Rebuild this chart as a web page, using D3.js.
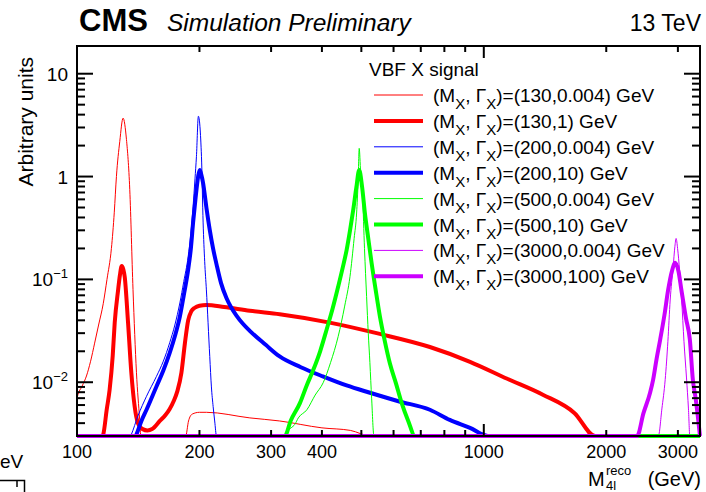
<!DOCTYPE html>
<html>
<head>
<meta charset="utf-8">
<script src="https://cdn.jsdelivr.net/npm/d3@7"></script>
<style>
  body { margin: 0; background: #fff; }
  svg { display: block; font-family: "Liberation Sans", Arial, Helvetica, sans-serif; }
</style>
</head>
<body>
<div id="chart"></div>
<script>
// --- Data (mass in GeV, arbitrary units) ---
const xTickLabels = [100, 200, 300, 400, 1000, 2000, 3000];
const legendMass  = ["130", "130", "200", "200", "500", "500", "3000", "3000"];
const legendWidth = ["0.004", "1", "0.004", "10", "0.004", "10", "0.004", "100"];

// (130, 0.004)
const h130n = [[100,0],[100.2,0.0072],[103,0.0092],[105.5,0.0115],[108,0.016],[110.5,0.024],[113,0.036],[116,0.058],
  [118.5,0.1],[121.5,0.2],[123.5,0.45],[125,1.0],[127.4,2.2],[129.8,3.7],[132.3,2.3],[134.8,0.75],[137.3,0.08],
  [140,0.0125],[142.6,0.0043],[143.5,0],[183,0],[185,0.0025],[188,0.0042],[192,0.0049],[200,0.0051],[208,0.0051],
  [266,0.0045],[315,0.0042],[400,0.0036],[470,0.0034],[527,0.003],[530,0],[3400,0]];
// (130, 1)
const h130w = [[100,0],[115.5,0],[116,0.0031],[118.3,0.0054],[120.3,0.0085],[122.4,0.018],[123.8,0.038],[126.2,0.079],
  [127.5,0.11],[128.8,0.135],[130,0.125],[131,0.106],[133.5,0.038],[136,0.0124],[138.6,0.0058],[141.2,0.0040],
  [145,0.0035],[149,0.0034],[153,0.0035],[159.8,0.0042],[165,0.0048],[169,0.0055],[173,0.0066],[176.5,0.0082],
  [180.6,0.0124],[184.2,0.024],[187.6,0.040],[191,0.049],[194.8,0.053],[200,0.0555],[208,0.0565],[230,0.054],
  [266,0.0495],[315,0.0458],[418,0.0380],[555,0.0295],[737,0.0220],[925,0.0158],[1142,0.0108],[1393,0.0076],
  [1672,0.0050],[1877,0.003],[1880,0],[3400,0]];
// (200, 0.004)
const h200n = [[100,0],[135.5,0],[136,0.0031],[141.2,0.0047],[148.2,0.0073],[156.8,0.0114],[163,0.016],[169,0.0242],
  [174,0.036],[179,0.059],[183,0.095],[187.6,0.166],[190.5,0.28],[192.9,0.509],[195,0.95],[196.6,1.56],[198.8,3.86],
  [202.3,1.56],[204.2,0.354],[206,0.15],[208,0.079],[212,0.0178],[214,0.009],[216.1,0.0058],[218,0.0042],
  [220.3,0.003],[221,0],[3400,0]];
// (200, 10)
const h200w = [[100,0],[139.5,0],[140,0.0031],[144,0.0042],[148.2,0.0054],[156.8,0.0091],[163,0.013],[169,0.0193],
  [174,0.028],[179,0.0435],[183,0.07],[187.6,0.124],[190.5,0.2],[192.9,0.354],[195.5,0.6],[198.5,1.0],[200.3,1.16],
  [202,1.05],[204.2,0.86],[208,0.5],[212,0.303],[216,0.2],[220.3,0.14],[226,0.092],[233,0.066],[239.6,0.053],
  [246.6,0.0445],[255.8,0.037],[265.9,0.0316],[291,0.0231],[314.9,0.0178],[355,0.014],[402,0.0114],[460,0.0093],
  [525,0.0079],[620,0.0065],[737,0.0054],[825,0.0043],[925,0.0036],[1024,0.003],[1030,0],[3400,0]];
// (500, 0.004)
const h500n = [[100,0],[323,0],[324.5,0.003],[330,0.0034],[336,0.0036],[343.3,0.0039],[350,0.0045],[367.4,0.0054],
  [385,0.0075],[402.9,0.0099],[420,0.0155],[438.6,0.0279],[455,0.055],[468.8,0.106],[480,0.25],[486.8,0.442],
  [491,0.9],[494,1.88],[498,1.1],[503.6,0.637],[509,0.2],[515.1,0.068],[520,0.03],[524.8,0.0155],[530,0.007],
  [537,0.003],[538,0],[3400,0]];
// (500, 10)
const h500w = [[100,0],[323.5,0],[324.2,0.003],[335,0.0042],[353.4,0.0063],[367,0.0093],[381,0.0132],[396,0.02],
  [410.7,0.0324],[425,0.052],[438.6,0.0851],[450,0.13],[460,0.193],[469,0.3],[477.5,0.473],[486,0.78],[494,1.16],
  [502,0.8],[510.2,0.44],[520,0.25],[529.9,0.144],[542,0.08],[555.5,0.0435],[570,0.026],[587.8,0.0152],
  [608,0.0098],[628.1,0.0063],[652,0.0042],[677.3,0.003],[678,0],[3400,0]];
// (3000, 0.004)
const h3000n = [[100,0],[2683,0],[2686,0.003],[2740,0.0055],[2792,0.0106],[2835,0.025],[2872,0.063],[2920,0.13],
  [2950,0.21],[2970,0.25],[2995,0.2],[3030,0.12],[3065,0.063],[3105,0.025],[3150,0.011],[3185,0.0055],
  [3210,0.003],[3215,0],[3400,0]];
// (3000, 100)
const h3000w = [[100,0],[2380,0],[2382,0.003],[2469,0.005],[2563,0.0079],[2608,0.0106],[2660,0.017],[2714,0.026],
  [2780,0.045],[2839,0.079],[2900,0.12],[2955,0.145],[3010,0.12],[3060,0.079],[3140,0.042],[3210,0.026],
  [3265,0.0106],[3320,0.0068],[3350,0.0051],[3400,0.003]];

// --- Setup ---
const width = 706, height = 492;
const frame = { left: 77, right: 700, top: 46, bottom: 436 };
const yMin = 0.003, yMax = 18.6;

const svg = d3.select("#chart").append("svg")
  .attr("width", width).attr("height", height)
  .attr("viewBox", [0, 0, width, height]);

const x = d3.scaleLog().domain([100, 3400]).range([frame.left, frame.right]);
const y = d3.scaleLog().domain([yMin, yMax]).range([frame.bottom, frame.top]);

const line = d3.line()
  .x(d => x(d[0]))
  .y(d => y(Math.max(d[1], yMin)))
  .curve(d3.curveMonotoneX);

// drawing order and styles (thin = 0.004 GeV width)
const series = [
  { data: h3000n, color: "#cc00ff", w: 1 },
  { data: h130n,  color: "#ff0000", w: 1 },
  { data: h130w,  color: "#ff0000", w: 4 },
  { data: h200n,  color: "#0000ff", w: 1 },
  { data: h200w,  color: "#0000ff", w: 4 },
  { data: h500n,  color: "#00ff00", w: 1 },
  { data: h500w,  color: "#00ff00", w: 4 },
  { data: h3000w, color: "#cc00ff", w: 4 }
];

// --- Curves ---
const curveGroup = svg.append("g").attr("class", "curves");
curveGroup.selectAll("path").data(series).join("path")
  .attr("d", d => line(d.data))
  .attr("fill", "none")
  .attr("stroke", d => d.color)
  .attr("stroke-width", d => d.w)
  .attr("stroke-linejoin", "round");

// --- Frame & ticks ---
const axes = svg.append("g").attr("stroke", "#000").attr("stroke-width", 2).attr("fill", "none");
axes.append("rect")
  .attr("x", frame.left).attr("y", frame.top)
  .attr("width", frame.right - frame.left).attr("height", frame.bottom - frame.top);

const isDecade = v => Math.abs(Math.log10(v) - Math.round(Math.log10(v))) < 1e-9;

const yTicks = y.ticks().filter(v => v >= yMin && v <= yMax);
yTicks.forEach(v => {
  const len = isDecade(v) ? 16 : 8;
  const yy = y(v);
  axes.append("line").attr("x1", frame.left).attr("x2", frame.left + len).attr("y1", yy).attr("y2", yy);
  axes.append("line").attr("x1", frame.right).attr("x2", frame.right - len).attr("y1", yy).attr("y2", yy);
});

const xTicks = x.ticks().filter(v => v >= 100 && v <= 3400);
xTicks.forEach(v => {
  const len = isDecade(v) ? 12 : 6;
  const xx = x(v);
  axes.append("line").attr("x1", xx).attr("x2", xx).attr("y1", frame.bottom).attr("y2", frame.bottom - len);
  axes.append("line").attr("x1", xx).attr("x2", xx).attr("y1", frame.top).attr("y2", frame.top + len);
});

// --- Tick labels ---
svg.append("g").selectAll("text").data(xTickLabels).join("text")
  .attr("x", d => x(d)).attr("y", 458)
  .attr("text-anchor", "middle").attr("font-size", 18)
  .text(d => d);

const yLab = svg.append("g").attr("font-size", 19).attr("text-anchor", "end");
yTicks.filter(isDecade).forEach(v => {
  const e = Math.round(Math.log10(v));
  const t = yLab.append("text").attr("x", 68).attr("y", y(v) + 7);
  if (e === 0) t.text("1");
  else if (e === 1) t.text("10");
  else {
    t.append("tspan").text("10");
    t.append("tspan").attr("font-size", 13).attr("dy", -8).text("\u2212" + (-e));
  }
});

// --- Axis titles ---
svg.append("text")
  .attr("transform", `translate(33, ${frame.top + 11}) rotate(-90)`)
  .attr("text-anchor", "end").attr("font-size", 21)
  .text("Arbitrary units");

const xt = svg.append("g").attr("font-size", 20);
xt.append("text").attr("x", 588).attr("y", 486).text("M");
xt.append("text").attr("x", 606).attr("y", 475).attr("font-size", 13).text("reco");
xt.append("text").attr("x", 606).attr("y", 490).attr("font-size", 13).text("4l");
xt.append("text").attr("x", 701).attr("y", 486).attr("text-anchor", "end").text("(GeV)");

// --- Header ---
svg.append("text").attr("x", 79).attr("y", 31)
  .attr("font-size", 31).attr("font-weight", "bold").text("CMS");
svg.append("text").attr("x", 167).attr("y", 31)
  .attr("font-size", 24.5).attr("font-style", "italic").text("Simulation Preliminary");
svg.append("text").attr("x", 701).attr("y", 31)
  .attr("font-size", 23).attr("text-anchor", "end").text("13 TeV");

// --- Legend ---
const legend = svg.append("g").attr("font-size", 19);
legend.append("text").attr("x", 369).attr("y", 76).text("VBF X signal");
const legendOrder = [1, 2, 3, 4, 5, 6, 0, 7]; // series index for each legend row
legendMass.forEach((m, i) => {
  const s = series[legendOrder[i]];
  const ly = 95 + i * 25.9;
  legend.append("line")
    .attr("x1", 374).attr("x2", 423).attr("y1", ly).attr("y2", ly)
    .attr("stroke", s.color).attr("stroke-width", s.w);
  const t = legend.append("text").attr("x", 433).attr("y", ly + 7);
  t.append("tspan").text("(M");
  t.append("tspan").attr("font-size", 15).attr("dy", 7).text("X");
  t.append("tspan").attr("dy", -7).text(", \u0393");
  t.append("tspan").attr("font-size", 15).attr("dy", 7).text("X");
  t.append("tspan").attr("dy", -7).text(`)=(${m},${legendWidth[i]}) GeV`);
});

// --- Remnant of neighbouring pad (bottom-left corner) ---
svg.append("text").attr("x", 0).attr("y", 468)
  .attr("font-size", 19).text("eV");
const corner = svg.append("g").attr("stroke", "#000").attr("stroke-width", 1.5).attr("fill", "none");
corner.append("path").attr("d", "M0,480.5H24.5V492");
corner.append("path").attr("d", "M17,480.5V487");
</script>
</body>
</html>
